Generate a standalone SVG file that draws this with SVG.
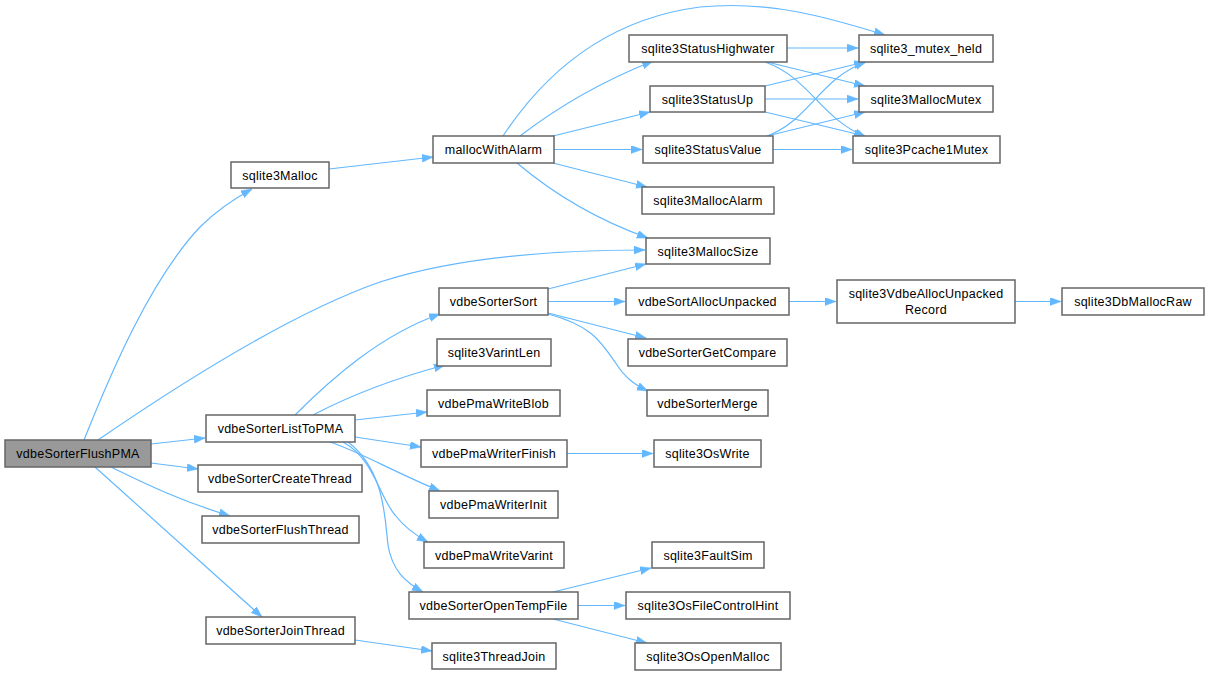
<svg xmlns="http://www.w3.org/2000/svg" width="1210" height="675" viewBox="0 0 1210 675">
<style>
.n rect{fill:#ffffff;stroke:#666666;stroke-width:1.5}
.n.main rect{fill:#999999}
.n text{font-family:"Liberation Sans",Arial,sans-serif;font-size:12.5px;letter-spacing:0.25px;fill:#000000;text-anchor:middle}
.e path{fill:none;stroke:#63b8ff;stroke-width:1.2;marker-end:url(#arr)}
</style>
<defs>
<marker id="arr" markerUnits="userSpaceOnUse" markerWidth="12" markerHeight="9" refX="11" refY="4" orient="auto">
<path d="M0,0 L11,4 L0,8 z" fill="#63b8ff" stroke="#63b8ff" stroke-width="0.5"/>
</marker>
</defs>
<rect width="1210" height="675" fill="#ffffff"/>
<g id="connectors" class="e">
<path d="M84,440 C110,375 150,280 200,227 C215,212 230,201 252,189"/>
<path d="M98,440 C200,370 300,310 380,282 C460,256 560,250 645,250"/>
<path d="M151,444 L205,438"/>
<path d="M151,463 L198,469"/>
<path d="M111,467 C140,481 175,499 230,516"/>
<path d="M95,467 L262,617"/>
<path d="M329,169 L433,157"/>
<path d="M503,136 C540,80 600,20 700,7 C770,0 830,18 885,35"/>
<path d="M520,136 Q580,90 653,61"/>
<path d="M553,136 L650,112"/>
<path d="M554,149.5 L642,149.5"/>
<path d="M553,163 L647,187"/>
<path d="M517,163 Q575,212 648,238"/>
<path d="M787,48 L858,48"/>
<path d="M767,62 L865,86"/>
<path d="M765,62 C810,78 820,118 866,137"/>
<path d="M765,86 L865,62"/>
<path d="M765,99 L858,99"/>
<path d="M765,112 L865,136"/>
<path d="M767,136 C810,120 820,78 866,62"/>
<path d="M767,136 L865,112"/>
<path d="M773,149.5 L852,149.5"/>
<path d="M548,289 L646,264"/>
<path d="M548,301.5 L625,301.5"/>
<path d="M548,313 L646,338"/>
<path d="M548,314 C590,325 600,340 615,362 C625,378 635,385 648,391"/>
<path d="M789,301.5 L836,301.5"/>
<path d="M1015,301.5 L1061,301.5"/>
<path d="M295,415 C330,380 380,335 440,314"/>
<path d="M313,415 Q370,385 445,365"/>
<path d="M355,420 L427,412"/>
<path d="M355,437 L421,447"/>
<path d="M330,442 C360,452 390,470 440,491"/>
<path d="M343,442 C375,460 378,495 395,515 C405,528 415,535 428,542"/>
<path d="M348,442 C385,470 385,520 388,545 C392,570 405,582 423,592"/>
<path d="M567,453.5 L653,453.5"/>
<path d="M553,592 L651,568"/>
<path d="M578,605.5 L625,605.5"/>
<path d="M553,619 L647,643"/>
<path d="M355,640 L432,651"/>
</g>
<g id="vdbeSorterFlushPMA" class="n main"><rect x="5" y="440" width="146" height="27"/><text x="78" y="457.5">vdbeSorterFlushPMA</text></g>
<g id="sqlite3Malloc" class="n"><rect x="231" y="162" width="98" height="26"/><text x="280" y="179.5">sqlite3Malloc</text></g>
<g id="mallocWithAlarm" class="n"><rect x="433" y="136" width="121" height="27"/><text x="493.5" y="153.5">mallocWithAlarm</text></g>
<g id="vdbeSorterListToPMA" class="n"><rect x="206" y="415" width="149" height="27"/><text x="280.5" y="432.5">vdbeSorterListToPMA</text></g>
<g id="vdbeSorterCreateThread" class="n"><rect x="198" y="465" width="164" height="27"/><text x="280" y="482.5">vdbeSorterCreateThread</text></g>
<g id="vdbeSorterFlushThread" class="n"><rect x="202" y="516" width="157" height="27"/><text x="280.5" y="533.5">vdbeSorterFlushThread</text></g>
<g id="vdbeSorterJoinThread" class="n"><rect x="206" y="617" width="149" height="27"/><text x="280.5" y="634.5">vdbeSorterJoinThread</text></g>
<g id="sqlite3StatusHighwater" class="n"><rect x="629" y="35" width="158" height="27"/><text x="708" y="52.5">sqlite3StatusHighwater</text></g>
<g id="sqlite3StatusUp" class="n"><rect x="650" y="86" width="115" height="26"/><text x="707.5" y="103.5">sqlite3StatusUp</text></g>
<g id="sqlite3StatusValue" class="n"><rect x="643" y="136" width="130" height="27"/><text x="708" y="153.5">sqlite3StatusValue</text></g>
<g id="sqlite3MallocAlarm" class="n"><rect x="642" y="187" width="132" height="27"/><text x="708" y="204.5">sqlite3MallocAlarm</text></g>
<g id="sqlite3MallocSize" class="n"><rect x="646" y="238" width="124" height="26"/><text x="708" y="255.5">sqlite3MallocSize</text></g>
<g id="vdbeSorterSort" class="n"><rect x="439" y="288" width="109" height="27"/><text x="493.5" y="305.5">vdbeSorterSort</text></g>
<g id="sqlite3VarintLen" class="n"><rect x="437" y="339" width="114" height="27"/><text x="494" y="356.5">sqlite3VarintLen</text></g>
<g id="vdbePmaWriteBlob" class="n"><rect x="427" y="390" width="133" height="26"/><text x="493.5" y="407.5">vdbePmaWriteBlob</text></g>
<g id="vdbePmaWriterFinish" class="n"><rect x="421" y="440" width="146" height="27"/><text x="494" y="457.5">vdbePmaWriterFinish</text></g>
<g id="vdbePmaWriterInit" class="n"><rect x="429" y="491" width="129" height="27"/><text x="493.5" y="508.5">vdbePmaWriterInit</text></g>
<g id="vdbePmaWriteVarint" class="n"><rect x="424" y="542" width="140" height="26"/><text x="494" y="559.5">vdbePmaWriteVarint</text></g>
<g id="vdbeSorterOpenTempFile" class="n"><rect x="409" y="592" width="169" height="27"/><text x="493.5" y="609.5">vdbeSorterOpenTempFile</text></g>
<g id="sqlite3ThreadJoin" class="n"><rect x="432" y="643" width="124" height="26"/><text x="494" y="660.5">sqlite3ThreadJoin</text></g>
<g id="sqlite3_mutex_held" class="n"><rect x="859" y="35" width="134" height="27"/><text x="926" y="52.5">sqlite3_mutex_held</text></g>
<g id="sqlite3MallocMutex" class="n"><rect x="859" y="86" width="134" height="26"/><text x="926" y="103.5">sqlite3MallocMutex</text></g>
<g id="sqlite3Pcache1Mutex" class="n"><rect x="853" y="136" width="147" height="27"/><text x="926.5" y="153.5">sqlite3Pcache1Mutex</text></g>
<g id="vdbeSortAllocUnpacked" class="n"><rect x="626" y="288" width="163" height="27"/><text x="707.5" y="305.5">vdbeSortAllocUnpacked</text></g>
<g id="sqlite3VdbeAllocUnpackedRecord" class="n"><rect x="837" y="280" width="178" height="43"/><text x="926" y="297.5">sqlite3VdbeAllocUnpacked</text><text x="926" y="313.5">Record</text></g>
<g id="sqlite3DbMallocRaw" class="n"><rect x="1062" y="288" width="142" height="27"/><text x="1133" y="305.5">sqlite3DbMallocRaw</text></g>
<g id="vdbeSorterGetCompare" class="n"><rect x="628" y="339" width="159" height="27"/><text x="707.5" y="356.5">vdbeSorterGetCompare</text></g>
<g id="vdbeSorterMerge" class="n"><rect x="647" y="390" width="121" height="26"/><text x="707.5" y="407.5">vdbeSorterMerge</text></g>
<g id="sqlite3OsWrite" class="n"><rect x="654" y="440" width="107" height="27"/><text x="707.5" y="457.5">sqlite3OsWrite</text></g>
<g id="sqlite3FaultSim" class="n"><rect x="652" y="542" width="112" height="26"/><text x="708" y="559.5">sqlite3FaultSim</text></g>
<g id="sqlite3OsFileControlHint" class="n"><rect x="626" y="592" width="164" height="27"/><text x="708" y="609.5">sqlite3OsFileControlHint</text></g>
<g id="sqlite3OsOpenMalloc" class="n"><rect x="635" y="643" width="146" height="27"/><text x="708" y="660.5">sqlite3OsOpenMalloc</text></g>
</svg>
